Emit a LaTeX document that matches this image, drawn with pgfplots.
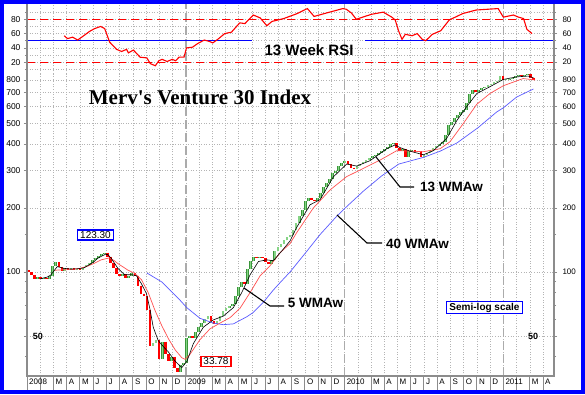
\documentclass[border=0pt]{standalone}
\usepackage{pgfplots}
\pgfplotsset{compat=1.18}
\usepackage{fontspec}
\setmainfont{Liberation Sans}
\newfontfamily\timesfont{Liberation Serif}
\definecolor{gdark}{HTML}{3A963A}
\definecolor{glight}{HTML}{86D486}
\definecolor{gridc}{HTML}{B4B4B4}
\definecolor{axisc}{HTML}{8C8C8C}
\definecolor{yearc}{HTML}{ABABAB}
\definecolor{ma13}{HTML}{FF5050}
\definecolor{ma40}{HTML}{5A5AFF}
\pgfplotsset{
  base/.style={scale only axis, width=527pt, xmin=0, xmax=39.83,
    axis line style={draw=none}, tick align=outside,
    major tick length=3pt, minor tick length=2pt,
    tick style={axisc, line width=0.6pt},
    tick label style={font=\fontsize{8.5}{10}\selectfont},
    /pgf/number format/assume math mode=true},
  mygrid/.style={major grid style={gridc, line width=0.5pt, dash pattern=on 1pt off 1.6pt},
    minor grid style={gridc, line width=0.5pt, dash pattern=on 1pt off 1.6pt}},
  yearlines/.style={extra x ticks={12,24,36}, extra x tick labels={},
    extra x tick style={major grid style={yearc, line width=1.6pt, dash pattern=on 9pt off 4pt}}},
}
\begin{document}
\begin{tikzpicture}[x=1pt,y=1pt]
\useasboundingbox (0,0) rectangle (585,394);
\fill[white] (0,0) rectangle (585,394);
% ---------------- price panel ----------------
\begin{axis}[base, mygrid, yearlines, at={(27pt,18pt)}, anchor=south west, height=302pt,
  ymode=log, ymin=32.4, ymax=854,
  xtick={0,...,39},
  xticklabels={2008,,M,A,M,J,J,A,S,O,N,D,2009,,M,A,M,J,J,A,S,O,N,D,2010,,M,A,M,J,J,A,S,O,N,D,2011,,M,A},
  xtick pos=left, major tick length=14pt,
  xtick style={draw=axisc, line width=0.9pt},
  xticklabel style={anchor=north west, yshift=13pt, inner sep=2pt, font=\fontsize{8}{9}\selectfont},
  ytick={50,100,200,300,400,500,600,700,800}, yticklabels={}, ytick style={draw=none},
  xmajorgrids, ymajorgrids]
% down weeks (open, close)
\addplot[red, line width=2.5pt, unbounded coords=jump, x filter/.expression={0.1+0.23*x}] coordinates {
(0,102)(0,100)(0,nan) (1,100)(1,97)(1,nan) (2,97)(2,93)(2,nan) (4,94.5)(4,93)(4,nan)
(6,94)(6,92.5)(6,nan) (10,111)(10,106)(10,nan) (11,106)(11,101)(11,nan) (13,104)(13,102.5)(13,nan)
(15,104)(15,102)(15,nan) (17,103.5)(17,102)(17,nan) (26,123.3)(26,118)(26,nan) (27,118)(27,110)(27,nan)
(28,110)(28,104)(28,nan) (29,104)(29,98)(29,nan) (30,98)(30,96)(30,nan) (32,98)(32,94)(32,nan)
(35,99)(35,96)(35,nan) (36,96)(36,86)(36,nan) (37,86)(37,79)(37,nan) (38,79)(38,77)(38,nan)
(39,77)(39,66)(39,nan) (40,66)(40,45)(40,nan) (43,48)(43,39)(43,nan) (45,47)(45,41)(45,nan)
(46,41)(46,38)(46,nan) (48,40)(48,35.5)(48,nan) (49,35.5)(49,33.78)(49,nan) (54,50)(54,49)(54,nan)
(60,62)(60,59)(60,nan) (61,59)(61,57)(61,nan) (71,90)(71,88)(71,nan) (75,118)(75,116.5)(75,nan)
(77,117.5)(77,116.5)(77,nan) (78,116.5)(78,112)(78,nan) (79,112)(79,109)(79,nan) (93,223)(93,218)(93,nan)
(94,218)(94,215)(94,nan) (105,332)(105,322)(105,nan) (106,322)(106,310)(106,nan) (107,310)(107,305)(107,nan)
(121,405)(121,385)(121,nan) (122,385)(122,372)(122,nan) (124,378)(124,348)(124,nan) (127,374)(127,366)(127,nan)
(129,370)(129,346)(129,nan) (147,718)(147,705)(147,nan) (156,835)(156,800)(156,nan) (162,845)(162,834)(162,nan)
(165,852)(165,822)(165,nan) (166,822)(166,800)(166,nan)
};
% up weeks (open, close)
\addplot[draw=gdark, line width=2.7pt, unbounded coords=jump, x filter/.expression={0.1+0.23*x},
  postaction={draw=glight, line width=1.4pt}] coordinates {
(3,93)(3,94.5)(3,nan) (5,93)(5,94)(5,nan) (7,92.5)(7,96)(7,nan) (8,96)(8,107)(8,nan)
(9,107)(9,111)(9,nan) (12,101)(12,104)(12,nan) (14,102.5)(14,104)(14,nan) (16,102)(16,103.5)(16,nan)
(18,102)(18,105)(18,nan) (19,105)(19,108)(19,nan) (20,108)(20,110)(20,nan) (21,110)(21,114)(21,nan)
(22,114)(22,116)(22,nan) (23,116)(23,119)(23,nan) (24,119)(24,121)(24,nan) (25,121)(25,123.3)(25,nan)
(31,96)(31,98)(31,nan) (33,94)(33,96)(33,nan) (34,96)(34,99)(34,nan) (41,45)(41,46.5)(41,nan)
(42,46.5)(42,48)(42,nan) (44,39)(44,47)(44,nan) (47,38)(47,40)(47,nan) (50,33.78)(50,36.5)(50,nan)
(51,36.5)(51,37.2)(51,nan) (52,37.2)(52,49)(52,nan) (53,49)(53,50)(53,nan) (55,49)(55,52)(55,nan)
(56,52)(56,55)(56,nan) (57,55)(57,57.5)(57,nan) (58,57.5)(58,60)(58,nan) (59,60)(59,62)(59,nan)
(62,57)(62,58.5)(62,nan) (63,58.5)(63,62)(63,nan) (64,62)(64,65.5)(64,nan) (65,65.5)(65,68)(65,nan)
(66,68)(66,69)(66,nan) (67,69)(67,70.5)(67,nan) (68,70.5)(68,77)(68,nan) (69,77)(69,85)(69,nan)
(70,85)(70,90)(70,nan) (72,88)(72,103)(72,nan) (73,103)(73,113)(73,nan) (74,113)(74,118)(74,nan)
(76,116.5)(76,117.5)(76,nan) (80,109)(80,114)(80,nan) (81,114)(81,125)(81,nan) (82,125)(82,131)(82,nan)
(83,131)(83,136)(83,nan) (84,136)(84,141)(84,nan) (85,141)(85,146)(85,nan) (86,146)(86,150)(86,nan)
(87,150)(87,158)(87,nan) (88,158)(88,170)(88,nan) (89,170)(89,183)(89,nan) (90,183)(90,196)(90,nan)
(91,196)(91,215)(91,nan) (92,215)(92,223)(92,nan) (95,215)(95,222)(95,nan) (96,222)(96,235)(96,nan)
(97,235)(97,250)(97,nan) (98,250)(98,262)(98,nan) (99,262)(99,275)(99,nan) (100,275)(100,292)(100,nan)
(101,292)(101,300)(101,nan) (102,300)(102,315)(102,nan) (103,315)(103,326)(103,nan) (104,326)(104,332)(104,nan)
(108,305)(108,315)(108,nan) (109,315)(109,322)(109,nan) (110,322)(110,330)(110,nan) (111,330)(111,336)(111,nan)
(112,336)(112,345)(112,nan) (113,345)(113,350)(113,nan) (114,350)(114,356)(114,nan) (115,356)(115,362)(115,nan)
(116,362)(116,370)(116,nan) (117,370)(117,378)(117,nan) (118,378)(118,388)(118,nan) (119,388)(119,398)(119,nan)
(120,398)(120,405)(120,nan) (123,372)(123,378)(123,nan) (125,348)(125,370)(125,nan) (126,370)(126,374)(126,nan)
(128,366)(128,370)(128,nan) (130,346)(130,355)(130,nan) (131,355)(131,362)(131,nan) (132,362)(132,372)(132,nan)
(133,372)(133,383)(133,nan) (134,383)(134,392)(134,nan) (135,392)(135,400)(135,nan) (136,400)(136,410)(136,nan)
(137,410)(137,440)(137,nan) (138,440)(138,490)(138,nan) (139,490)(139,505)(139,nan) (140,505)(140,530)(140,nan)
(141,530)(141,548)(141,nan) (142,548)(142,565)(142,nan) (143,565)(143,580)(143,nan) (144,580)(144,625)(144,nan)
(145,625)(145,690)(145,nan) (146,690)(146,718)(146,nan) (148,705)(148,720)(148,nan) (149,720)(149,735)(149,nan)
(150,735)(150,745)(150,nan) (151,745)(151,755)(151,nan) (152,755)(152,770)(152,nan) (153,770)(153,785)(153,nan)
(154,785)(154,795)(154,nan) (155,795)(155,835)(155,nan) (157,800)(157,806)(157,nan) (158,806)(158,812)(158,nan)
(159,812)(159,822)(159,nan) (160,822)(160,835)(160,nan) (161,835)(161,845)(161,nan) (163,834)(163,846)(163,nan)
(164,846)(164,852)(164,nan)
};
% 40 WMA
\addplot[ma40, line width=0.7pt] coordinates {
(9.05,99)(10.18,89.8)(11.45,75)(12.07,68)(13.08,60.5)(14.08,57.5)(14.84,56.5)(15.6,57)(16.6,61.5)
(17.1,64.5)(17.86,72)(18.6,82)(19.12,89)(19.88,100)(21.14,125)(22.15,150)(23.41,183)(24.16,203)
(25.42,240)(26.8,283)(28.1,322)(29.96,346)(31.22,370)(32.48,404)(34.1,478)(35.5,566)(36.0,592)
(37.0,665)(38.27,726)};
% 13 WMA
\addplot[ma13, line width=0.7pt] coordinates {
(2.04,101.8)(2.8,102.5)(3.31,102.6)(4.0,104)(4.58,106.5)(5.1,110)(5.6,114)(6.23,116.5)(6.6,113)
(6.87,109.5)(7.63,102)(8.14,98.5)(8.65,92)(9.16,80)(9.67,66)(10.18,56)(10.69,48.5)(11.2,43)
(11.7,39.5)(11.95,38.8)(12.32,41)(13.07,48)(13.83,54)(14.59,57.5)(15.35,61)(16.1,67.5)(16.86,80)
(17.62,96)(18.37,107)(19.12,123)(19.88,136)(20.38,153)(21.64,200)(22.9,243)(24.16,281)(25.42,307)
(26.68,336)(27.94,372)(28.7,371)(29.96,368)(31.22,380)(31.97,410)(32.98,500)(33.99,615)(35.0,692)
(36.0,752)(37.5,813)(38.4,800)};
% 5 WMA
\addplot[black, line width=0.6pt] coordinates {
(1.02,93)(1.5,94.5)(1.78,96.5)(2.29,106)(2.8,104)(3.3,103.2)(3.82,103.5)(4.3,104.5)(4.58,107)
(5.0,111)(5.34,116)(5.85,120.5)(6.1,121)(6.36,116)(6.87,104)(7.38,97)(7.89,97)(8.27,96)(8.65,88)
(9.03,79)(9.29,67)(9.54,55)(9.92,47.5)(10.31,44.5)(10.69,42)(11.2,38)(11.7,35.5)(12.09,38)
(12.57,46)(13.33,55)(14.08,59.5)(14.84,62)(15.6,68)(16.23,80)(16.86,97)(17.49,112)(18.11,114)
(18.62,113)(19.37,128)(19.88,140)(20.38,162)(21.39,207)(22.15,219)(23.15,280)(24.16,322)
(24.92,315)(25.93,334)(27.19,380)(27.82,396)(28.19,385)(28.95,370)(29.96,356)(30.71,372)
(31.72,425)(32.48,515)(33.23,600)(33.99,690)(35.0,745)(36.0,805)(37.01,828)(37.89,835)(38.28,820)};
\node[font=\bfseries\fontsize{9}{10}\selectfont] at (axis cs:0.83,50) {50};
\node[font=\bfseries\fontsize{9}{10}\selectfont] at (axis cs:38.25,50) {50};
\end{axis}
% left labels price
\begin{axis}[base, at={(27pt,18pt)}, anchor=south west, height=302pt,
  ymode=log, ymin=32.4, ymax=854, xtick=\empty,
  ytick={50,100,200,300,400,500,600,700,800},
  yticklabels={,100,200,300,400,500,600,700,800},
  minor ytick={40,60,70,80,90,150},
  ytick pos=both, yticklabel pos=left]
\end{axis}
% right labels price
\begin{axis}[base, at={(27pt,18pt)}, anchor=south west, height=302pt,
  ymode=log, ymin=32.4, ymax=854, xtick=\empty,
  ytick={50,100,200,300,400,500,600,700,800},
  yticklabels={,100,200,300,400,500,600,700,800},
  ytick style={draw=none}, ytick pos=right, yticklabel pos=right,
  yticklabel style={xshift=2pt, font=\fontsize{8}{10}\selectfont}]
\end{axis}
% ---------------- RSI panel ----------------
\begin{axis}[base, mygrid, yearlines, at={(27pt,320pt)}, anchor=south west, height=70pt,
  ymin=3.5, ymax=101.4,
  xtick={0,...,39}, xticklabels={}, xtick style={draw=none},
  ytick={20,40,60,80}, yticklabels={20,40,60,80},
  minor ytick={10,30,50,70,90},
  ytick pos=both, yticklabel pos=left,
  xmajorgrids, ymajorgrids, yminorgrids]
\addplot[red, line width=0.7pt, dash pattern=on 8pt off 5pt] coordinates {(0,80)(39.83,80)};
\addplot[red, line width=0.7pt, dash pattern=on 8pt off 5pt] coordinates {(0,20)(39.83,20)};
\addplot[blue, line width=1.3pt] coordinates {(0,50)(16.98,50)};
\addplot[blue, line width=1.3pt] coordinates {(25.53,50)(39.83,50)};
\addplot[red, line width=1.1pt] coordinates {
(2.81,57)(3.06,53)(3.45,55)(3.83,51)(4.21,56)(4.72,63)(5.11,67)(5.57,70)(5.87,67)(6.25,48)(6.77,38)
(7.15,35)(7.53,38)(7.66,33)(8.04,37)(8.55,27)(9.06,26)(9.32,18)(9.70,15)(9.96,22)(10.21,24)(10.59,21)
(10.98,24)(11.23,22)(11.49,27)(11.87,27)(12.05,40)(12.51,41)(12.89,46)(13.40,51)(13.79,49)(14.04,47)
(14.42,52)(14.94,60)(15.45,62)(16.08,75)(16.47,74)(17.10,86)(17.62,82)(18.13,71)(18.51,77)(19.40,81)
(20.42,88)(21.19,95)(21.70,84)(22.47,88)(23.87,95)(24.13,94)(24.51,89)(24.89,80)(25.53,84)(26.04,87)
(26.93,90)(27.57,83)(27.83,79)(28.08,64)(28.34,52)(28.59,59)(29.10,57)(29.49,60)(29.87,52)(30.13,50)
(30.64,59)(31.27,64)(31.91,79)(32.93,88)(33.95,93)(35.61,95)(36.00,83)(36.76,86)(37.15,83)(37.53,81)
(37.78,66)(38.17,60)};
\end{axis}
\begin{axis}[base, at={(27pt,320pt)}, anchor=south west, height=70pt,
  ymin=3.5, ymax=101.4, xtick=\empty,
  ytick={20,40,60,80}, yticklabels={20,40,60,80},
  ytick style={draw=none}, ytick pos=right, yticklabel pos=right,
  yticklabel style={xshift=2pt, font=\fontsize{8}{10}\selectfont}]
\end{axis}
% axis lines
\draw[axisc, line width=1.3pt] (27,390) -- (27,18) -- (554,18) -- (554,390);
% annotations
\node[font=\timesfont\bfseries\fontsize{21}{25}\selectfont] at (200,296.5) {Merv's Venture 30 Index};
\node[font=\bfseries\fontsize{15}{18}\selectfont] at (309,344.2) {13 Week RSI};
\draw[black, line width=1.1pt] (376,237) -- (400,207) -- (414,207);
\node[font=\bfseries\fontsize{13.5}{16}\selectfont] at (451.5,207.5) {13 WMAw};
\draw[black, line width=1.1pt] (337,179) -- (367,151) -- (382,151);
\node[font=\bfseries\fontsize{13.5}{16}\selectfont] at (417.5,150.5) {40 WMAw};
\draw[black, line width=1.1pt] (244,106) -- (270,88) -- (284,88);
\node[font=\bfseries\fontsize{13.5}{16}\selectfont] at (315.5,91.5) {5 WMAw};
\node[draw=blue, line width=1.2pt, fill=white, inner xsep=2.5pt, inner ysep=1.5pt, font=\fontsize{10}{12}\selectfont] at (95.5,159) {123.30};
\node[draw=red, line width=1.2pt, fill=white, inner xsep=2.5pt, inner ysep=1.5pt, font=\fontsize{10}{12}\selectfont] at (216,32.5) {33.78};
\node[draw=blue, line width=1.2pt, fill=white, inner xsep=3pt, inner ysep=1pt, font=\bfseries\fontsize{10}{12}\selectfont] at (484.5,86.5) {Semi-log scale};
% frame
\draw[blue, line width=4pt] (2,2) rectangle (583,392);
\end{tikzpicture}
\end{document}
